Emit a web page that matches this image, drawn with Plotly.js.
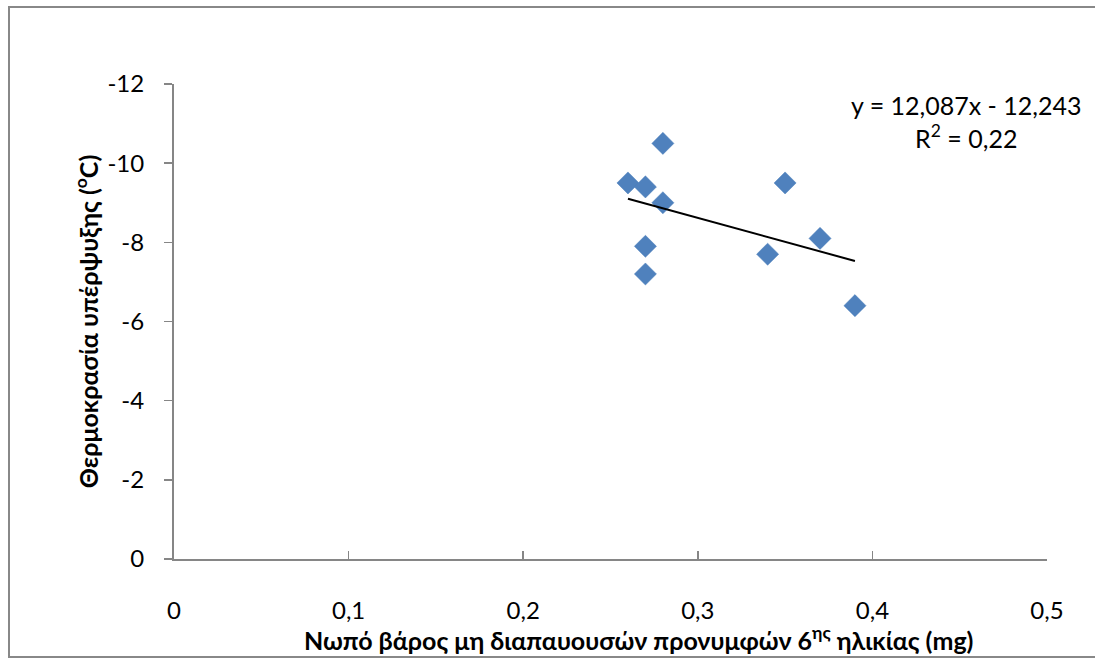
<!DOCTYPE html>
<html>
<head>
<meta charset="utf-8">
<script src="https://cdn.plot.ly/plotly-3.0.1.min.js"></script>
<style>
  html, body { margin: 0; padding: 0; background: #ffffff; }
  #chart { width: 1095px; height: 659px; }
</style>
</head>
<body>
<div id="chart"></div>
<script>
// ---- data ----
const weightMg = [0.26, 0.27, 0.28, 0.28, 0.27, 0.27, 0.35, 0.34, 0.37, 0.39];
const supercoolingC = [-9.5, -9.4, -10.5, -9.0, -7.9, -7.2, -9.5, -7.7, -8.1, -6.4];
const trendSlope = 12.087;
const trendIntercept = -12.243;
const trendLabel = "y = 12,087x - 12,243<br>R<sup>2</sup> = 0,22";
const xTickVals = [0, 0.1, 0.2, 0.3, 0.4, 0.5];
const xTickText = ["0", "0,1", "0,2", "0,3", "0,4", "0,5"];
const yTickVals = [0, -2, -4, -6, -8, -10, -12];
const yTickText = ["0", "-2", "-4", "-6", "-8", "-10", "-12"];
const xTitle = "Νωπό βάρος μη διαπαυουσών προνυμφών 6<sup>ης</sup> ηλικίας (mg)";
const yTitle = "Θερμοκρασία υπέρψυξης (<sup>ο</sup>C)";

// trend line across the data's x extent
const xMin = Math.min(...weightMg), xMax = Math.max(...weightMg);
const trendX = [xMin, xMax];
const trendY = trendX.map(v => trendSlope * v + trendIntercept);

const FONT = "Lato, Open Sans, Noto Sans, DejaVu Sans, sans-serif";
const W = 1095, H = 659;
const L = 174, R = 48, T = 84, B = 100;
const pw = W - L - R, ph = H - T - B;
const px2paperX = p => (p - L) / pw;
const px2paperY = p => (H - B - p) / ph;

const traces = [
  {
    type: "scatter", mode: "markers",
    x: weightMg, y: supercoolingC,
    marker: { symbol: "diamond", size: 17, color: "#4F81BD", line: { color: "#4A7EBB", width: 0.5 } },
    showlegend: false, hoverinfo: "x+y"
  },
  {
    type: "scatter", mode: "lines",
    x: trendX, y: trendY,
    line: { color: "#000000", width: 2 },
    showlegend: false, hoverinfo: "skip"
  }
];

const layout = {
  width: W, height: H,
  margin: { l: L, r: R, t: T, b: B, pad: 0 },
  paper_bgcolor: "#ffffff", plot_bgcolor: "#ffffff",
  font: { family: FONT, size: 24, color: "#000000" },
  showlegend: false,
  xaxis: {
    range: [0, 0.5],
    tickmode: "array", tickvals: xTickVals, ticktext: xTickText,
    ticks: "inside", ticklen: 8, tickwidth: 1.5, tickcolor: "#868686",
    showline: true, linecolor: "#868686", linewidth: 2,
    showgrid: false, zeroline: false,
    ticklabelstandoff: 29,
    tickfont: { family: FONT, size: 24, color: "#000000" }
  },
  yaxis: {
    range: [0, -12],
    tickmode: "array", tickvals: yTickVals, ticktext: yTickText,
    ticks: "outside", ticklen: 8, tickwidth: 1.5, tickcolor: "#868686",
    showline: true, linecolor: "#868686", linewidth: 2,
    showgrid: false, zeroline: false,
    ticklabelstandoff: 15,
    tickfont: { family: FONT, size: 24, color: "#000000" },
    title: { text: yTitle, standoff: 2, font: { family: FONT, size: 25, color: "#000000", weight: "bold" } }
  },
  annotations: [
    {
      xref: "paper", yref: "paper",
      x: px2paperX(638), y: px2paperY(638),
      xanchor: "center", yanchor: "middle",
      text: "<b>" + xTitle + "</b>", showarrow: false,
      font: { family: FONT, size: 25, color: "#000000" }
    },
    {
      xref: "paper", yref: "paper",
      x: px2paperX(966), y: px2paperY(122),
      xanchor: "center", yanchor: "middle", align: "center",
      text: trendLabel, showarrow: false,
      font: { family: FONT, size: 25, color: "#000000" }
    }
  ],
  shapes: [
    {
      type: "rect", xref: "paper", yref: "paper",
      x0: px2paperX(9), x1: px2paperX(1110), y0: px2paperY(657), y1: px2paperY(7),
      line: { color: "#888888", width: 2 }, fillcolor: "rgba(0,0,0,0)", layer: "below"
    }
  ]
};

Plotly.newPlot("chart", traces, layout, { displayModeBar: false, staticPlot: true });
</script>
</body>
</html>
